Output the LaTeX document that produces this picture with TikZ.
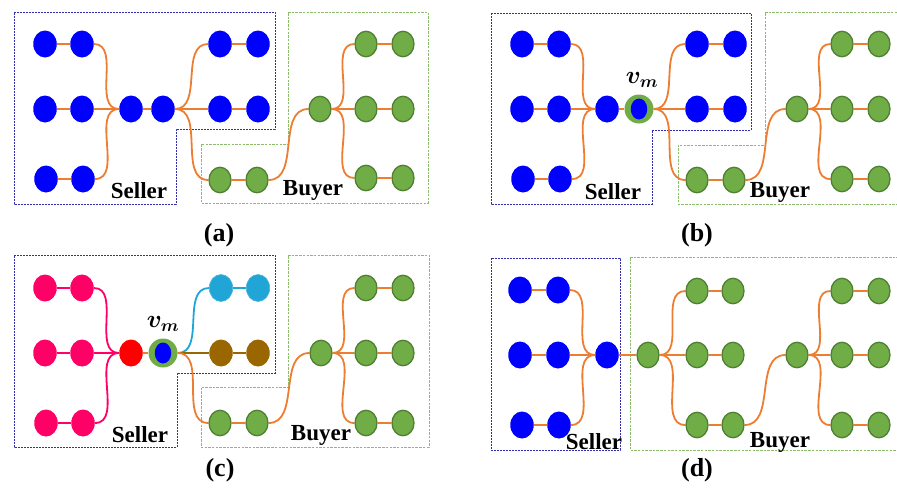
\documentclass[tikz,border=0pt]{standalone}
\usepackage{fontspec}
\setmainfont{Liberation Serif}
\usetikzlibrary{shapes.geometric}

\definecolor{nodeblue}{HTML}{0000FF}
\definecolor{nodegreen}{HTML}{70AD47}
\definecolor{greenrim}{HTML}{4F7F30}
\definecolor{edgeorange}{HTML}{ED7D31}
\definecolor{pinkish}{HTML}{FF0066}
\definecolor{hubred}{HTML}{FF0000}
\definecolor{skyblue}{HTML}{21A5D6}
\definecolor{brownish}{HTML}{996600}
\definecolor{sellerline}{HTML}{2F2FAF}
\definecolor{buyerline}{HTML}{8DBB6C}

% a pair of nodes joined by a straight link: prefix, node style, link style, x1, x2, y
\newcommand\pairrow[6]{%
  \node[#2] (#1a) at (#4,#6) {};
  \node[#2] (#1b) at (#5,#6) {};
  \draw[#3] (#1a) -- (#1b);}

\begin{document}
\begin{tikzpicture}[x=1pt,y=-1pt,
  dot/.style={ellipse,inner sep=0pt,minimum width=23.5pt,minimum height=27pt},
  bnode/.style={dot,fill=nodeblue},
  gnode/.style={dot,fill=nodegreen,draw=greenrim,line width=1.3pt,minimum width=22pt,minimum height=25.5pt},
  pnode/.style={dot,fill=pinkish},
  rnode/.style={dot,fill=hubred},
  cnode/.style={dot,fill=skyblue,draw=skyblue!80!white,line width=0.6pt},
  wnode/.style={dot,fill=brownish},
  vmring/.style={circle,inner sep=0pt,minimum size=29pt,fill=nodegreen},
  vmcore/.style={dot,fill=nodeblue,minimum width=16.5pt,minimum height=21pt},
  link/.style={draw=edgeorange,line width=1.8pt},
  plink/.style={draw=pinkish,line width=1.8pt},
  clink/.style={draw=skyblue,line width=1.8pt},
  wlink/.style={draw=brownish,line width=1.8pt},
  sellerbox/.style={draw=sellerline,line width=0.9pt,dash pattern=on 2pt off 1pt},
  buyerbox/.style={draw=buyerline,line width=0.9pt,dash pattern=on 2.5pt off 1.2pt},
  lbl/.style={font=\fontsize{23}{26}\selectfont\bfseries,inner sep=0pt},
  panelcap/.style={font=\fontsize{26}{30}\selectfont\bfseries,inner sep=0pt},
  vmlbl/.style={font=\fontsize{25}{28}\selectfont\boldmath,inner sep=0pt}]

\useasboundingbox (0,0) rectangle (897,490);
\clip (0,0) rectangle (897,490);

% ---------- (a) ----------
\begin{scope}[name prefix=a-]
  \draw[sellerbox] (14,12) -- (275,12) -- (275,129) -- (176,129) -- (176,204) -- (14,204) -- cycle;
  \draw[buyerbox] (288,12) -- (428,12) -- (428,203) -- (201,203) -- (201,144) -- (288,144) -- cycle;
  \pairrow{s1}{bnode}{link}{45}{82}{44}
  \pairrow{s2}{bnode}{link}{45}{82}{109}
  \pairrow{s3}{bnode}{link}{46}{83}{179}
  \node[bnode] (h1) at (131,109) {};
  \node[bnode] (h2) at (163,109) {};
  \pairrow{r1}{bnode}{link}{220}{258}{44}
  \pairrow{r2}{bnode}{link}{220}{258}{109}
  \pairrow{g}{gnode}{link}{220}{257}{180}
  \node[gnode] (bh) at (320,109) {};
  \pairrow{b1}{gnode}{link}{366}{403}{44}
  \pairrow{b2}{gnode}{link}{366}{403}{109}
  \pairrow{b3}{gnode}{link}{366}{403}{178}
  \draw[link] (s1b.east) to[out=0,in=180] (h1.west);
  \draw[link] (s2b) -- (h1);
  \draw[link] (s3b.east) to[out=0,in=180] (h1.west);
  \draw[link] (h1) -- (h2);
  \draw[link] (h2.east) to[out=0,in=180] (r1a.west);
  \draw[link] (h2) -- (r2a);
  \draw[link] (h2.east) to[out=0,in=180] (ga.west);
  \draw[link] (gb.east) to[out=0,in=180] (bh.west);
  \draw[link] (bh.east) to[out=0,in=180] (b1a.west);
  \draw[link] (bh) -- (b2a);
  \draw[link] (bh.east) to[out=0,in=180] (b3a.west);
  \node[lbl] (sl) at (139,191) {Seller};
  \node[lbl] (bl) at (313,190) {Buyer};
  \node[panelcap] (cp) at (219,235) {(a)};
\end{scope}

% ---------- (b) ----------
\begin{scope}[shift={(477,0)},name prefix=b-]
  \draw[sellerbox] (14,13) -- (274,13) -- (274,130) -- (175,130) -- (175,204) -- (14,204) -- cycle;
  \draw[buyerbox] (288,12) -- (440,12) -- (440,204) -- (201,204) -- (201,145) -- (288,145) -- cycle;
  \pairrow{s1}{bnode}{link}{45}{82}{44}
  \pairrow{s2}{bnode}{link}{45}{82}{109}
  \pairrow{s3}{bnode}{link}{46}{83}{179}
  \node[bnode] (h1) at (130,109) {};
  \node[vmring] (h2) at (162,109) {};
  \node[vmcore] (h2c) at (162,109) {};
  \node[vmlbl] (vm) at (165,80) {$v_m$};
  \pairrow{r1}{bnode}{link}{220}{258}{44}
  \pairrow{r2}{bnode}{link}{220}{258}{109}
  \pairrow{g}{gnode}{link}{220}{257}{180}
  \node[gnode] (bh) at (320,109) {};
  \pairrow{b1}{gnode}{link}{365}{402}{44}
  \pairrow{b2}{gnode}{link}{365}{402}{109}
  \pairrow{b3}{gnode}{link}{365}{402}{179}
  \draw[link] (s1b.east) to[out=0,in=180] (h1.west);
  \draw[link] (s2b) -- (h1);
  \draw[link] (s3b.east) to[out=0,in=180] (h1.west);
  \draw[link] (h1) -- (h2);
  \draw[link] (h2.east) to[out=0,in=180] (r1a.west);
  \draw[link] (h2) -- (r2a);
  \draw[link] (h2.east) to[out=0,in=180] (ga.west);
  \draw[link] (gb.east) to[out=0,in=180] (bh.west);
  \draw[link] (bh.east) to[out=0,in=180] (b1a.west);
  \draw[link] (bh) -- (b2a);
  \draw[link] (bh.east) to[out=0,in=180] (b3a.west);
  \node[lbl] (sl) at (136,192) {Seller};
  \node[lbl] (bl) at (303,192) {Buyer};
  \node[panelcap] (cp) at (220,235) {(b)};
\end{scope}

% ---------- (c) ----------
\begin{scope}[shift={(0,244)},name prefix=c-]
  \draw[sellerbox] (14,11) -- (275,11) -- (275,129) -- (177,129) -- (177,203) -- (14,203) -- cycle;
  \draw[buyerbox] (288,11) -- (429,11) -- (429,203) -- (201,203) -- (201,143) -- (288,143) -- cycle;
  \pairrow{s1}{pnode}{plink}{45}{82}{44}
  \pairrow{s2}{pnode}{plink}{45}{82}{109}
  \pairrow{s3}{pnode}{plink}{46}{83}{179}
  \node[rnode] (h1) at (131,109) {};
  \node[vmring] (h2) at (163,109) {};
  \node[vmcore] (h2c) at (163,109) {};
  \node[vmlbl] (vm) at (163,80) {$v_m$};
  \pairrow{r1}{cnode}{clink}{221}{258}{44}
  \pairrow{r2}{wnode}{wlink}{221}{258}{109}
  \pairrow{g}{gnode}{link}{220}{257}{179}
  \node[gnode] (bh) at (321,109) {};
  \pairrow{b1}{gnode}{link}{366}{403}{44}
  \pairrow{b2}{gnode}{link}{366}{403}{109}
  \pairrow{b3}{gnode}{link}{366}{403}{179}
  \draw[plink] (s1b.east) to[out=0,in=180] (h1.west);
  \draw[plink] (s2b) -- (h1);
  \draw[plink] (s3b.east) to[out=0,in=180] (h1.west);
  \draw[link] (h1) -- (h2);
  \draw[clink] (h2.east) to[out=0,in=180] (r1a.west);
  \draw[wlink] (h2) -- (r2a);
  \draw[link] (h2.east) to[out=0,in=180] (ga.west);
  \draw[link] (gb.east) to[out=0,in=180] (bh.west);
  \draw[link] (bh.east) to[out=0,in=180] (b1a.west);
  \draw[link] (bh) -- (b2a);
  \draw[link] (bh.east) to[out=0,in=180] (b3a.west);
  \node[lbl] (sl) at (140,191) {Seller};
  \node[lbl] (bl) at (321,191) {Buyer};
  \node[panelcap] (cp) at (220,226) {(c)};
\end{scope}

% ---------- (d) ----------
\begin{scope}[name prefix=d-]
  \draw[sellerbox] (491,258) rectangle (620,450);
  \draw[buyerbox] (630,257) -- (905,257) -- (905,450) -- (630,450) -- cycle;
  \pairrow{s1}{bnode}{link}{520}{558}{290}
  \pairrow{s2}{bnode}{link}{520}{558}{355}
  \pairrow{s3}{bnode}{link}{522}{559}{425}
  \node[bnode] (h1) at (607,355) {};
  \node[gnode] (h2) at (648,355) {};
  \pairrow{m1}{gnode}{link}{697}{733}{291}
  \pairrow{m2}{gnode}{link}{697}{733}{355}
  \pairrow{m3}{gnode}{link}{697}{733}{425}
  \node[gnode] (bh) at (797,355) {};
  \pairrow{b1}{gnode}{link}{842}{879}{291}
  \pairrow{b2}{gnode}{link}{842}{879}{355}
  \pairrow{b3}{gnode}{link}{842}{879}{425}
  \draw[link] (s1b.east) to[out=0,in=180] (h1.west);
  \draw[link] (s2b) -- (h1);
  \draw[link] (s3b.east) to[out=0,in=180] (h1.west);
  \draw[link] (h1) -- (h2);
  \draw[link] (h2.east) to[out=0,in=180] (m1a.west);
  \draw[link] (h2) -- (m2a);
  \draw[link] (h2.east) to[out=0,in=180] (m3a.west);
  \draw[link] (m3b.east) to[out=0,in=180] (bh.west);
  \draw[link] (bh.east) to[out=0,in=180] (b1a.west);
  \draw[link] (bh) -- (b2a);
  \draw[link] (bh.east) to[out=0,in=180] (b3a.west);
  \node[lbl] (sl) at (594,442) {Seller};
  \node[lbl] (bl) at (780,442) {Buyer};
  \node[panelcap] (cp) at (697,470) {(d)};
\end{scope}
\end{tikzpicture}
\end{document}
